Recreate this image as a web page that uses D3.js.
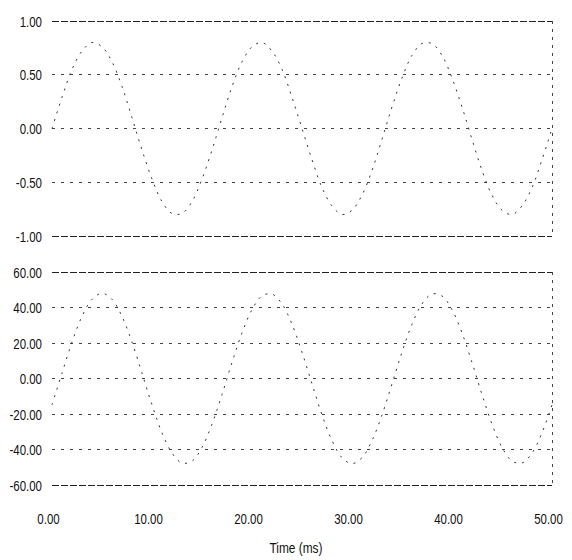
<!DOCTYPE html>
<html>
<head>
<meta charset="utf-8">
<script src="https://cdn.jsdelivr.net/npm/d3@7"></script>
<style>
  html, body { margin: 0; padding: 0; background: #fff; }
  svg { display: block; }
  text { font-family: "Liberation Sans", Arial, sans-serif; font-size: 14px; fill: #111; }
</style>
</head>
<body>
<script>
// ---- data ----
const timeMs = [0,1,2,3,4,5,6,7,8,9,10,11,12,13,14,15,16,17,18,19,20,21,22,23,24,25,
  26,27,28,29,30,31,32,33,34,35,36,37,38,39,40,41,42,43,44,45,46,47,48,49,50];
const topValues = [0,0.29,0.55,0.72,0.80,0.76,0.62,0.39,0.10,-0.20,-0.47,-0.68,-0.79,-0.79,-0.68,-0.47,-0.20,0.10,0.39,0.62,0.76,0.80,0.72,0.55,0.29,0,
  -0.29,-0.55,-0.72,-0.80,-0.76,-0.62,-0.39,-0.10,0.20,0.47,0.68,0.79,0.79,0.68,0.47,0.20,-0.10,-0.39,-0.62,-0.76,-0.80,-0.72,-0.55,-0.29,0];
const bottomValues = [-14.8,3.0,20.5,35.0,44.6,48.0,44.6,35.0,20.5,3.0,-14.8,-30.6,-42.0,-47.6,-46.5,-38.8,-25.7,-9.0,9.0,25.7,38.8,46.5,47.6,42.0,30.6,14.8,
  -3.0,-20.5,-35.0,-44.6,-48.0,-44.6,-35.0,-20.5,-3.0,14.8,30.6,42.0,47.6,46.5,38.8,25.7,9.0,-9.0,-25.7,-38.8,-46.5,-47.6,-42.0,-30.6,-14.8];
const topTicks = [1.00, 0.50, 0.00, -0.50, -1.00];
const bottomTicks = [60, 40, 20, 0, -20, -40, -60];
const xTicks = [0, 10, 20, 30, 40, 50];
const xTitle = "Time (ms)";

// ---- drawing ----
const W = 572, H = 560;
const svg = d3.select("body").append("svg").attr("width", W).attr("height", H);
const fmt = d => (+d).toFixed(2);

const x = d3.scaleLinear().domain([0, 50]).range([52, 552]);
const yTop = d3.scaleLinear().domain([-1, 1]).range([236, 21]);
const yBot = d3.scaleLinear().domain([-60, 60]).range([485, 272]);

// condense text horizontally (narrow face look)
function condense(sel, k) {
  sel.each(function () {
    const w = this.getComputedTextLength();
    d3.select(this).attr("textLength", w * k).attr("lengthAdjust", "spacingAndGlyphs");
  });
}

function panel(y, ticks, values) {
  const g = svg.append("g");
  const [lo, hi] = y.domain();
  g.selectAll("line.grid").data(ticks).enter().append("line")
    .attr("x1", x(0)).attr("x2", x(50))
    .attr("y1", d => y(d)).attr("y2", d => y(d))
    .attr("stroke", d => (d === lo || d === hi) ? "#222" : "#444")
    .attr("stroke-width", 1)
    .attr("stroke-dasharray", d => (d === lo || d === hi) ? "7,2" : "3,6")
    .attr("shape-rendering", "crispEdges");
  g.append("line")
    .attr("x1", x(50)).attr("x2", x(50))
    .attr("y1", y(hi)).attr("y2", y(lo))
    .attr("stroke", "#444").attr("stroke-width", 1)
    .attr("stroke-dasharray", "3,5")
    .attr("shape-rendering", "crispEdges");
  const axis = d3.axisLeft(y).tickValues(ticks).tickFormat(fmt).tickSize(0).tickPadding(0);
  const ag = g.append("g").attr("transform", `translate(${x(0) - 10},0)`).call(axis);
  ag.select(".domain").remove();
  ag.selectAll("text").attr("font-family", null).attr("font-size", null).attr("fill", "#111").attr("dy", "0.36em").call(condense, 0.82);
  const line = d3.line().x((d, i) => x(timeMs[i])).y(d => y(d)).curve(d3.curveCatmullRom);
  g.append("path").datum(values)
    .attr("d", line)
    .attr("fill", "none")
    .attr("stroke", "#333")
    .attr("stroke-width", 1)
    .attr("stroke-dasharray", "2,6");
}

panel(yTop, topTicks, topValues);
panel(yBot, bottomTicks, bottomValues);

const xa = d3.axisBottom(x).tickValues(xTicks).tickFormat(fmt).tickSize(0).tickPadding(0);
const xg = svg.append("g").attr("transform", "translate(-4,519)").call(xa);
xg.select(".domain").remove();
xg.selectAll("text").attr("font-family", null).attr("font-size", null).attr("fill", "#111").attr("dy", "0.36em").call(condense, 0.82);

svg.append("text").attr("x", 296).attr("y", 553).attr("text-anchor", "middle").attr("font-size", 13).text(xTitle).call(condense, 0.85);
</script>
</body>
</html>
